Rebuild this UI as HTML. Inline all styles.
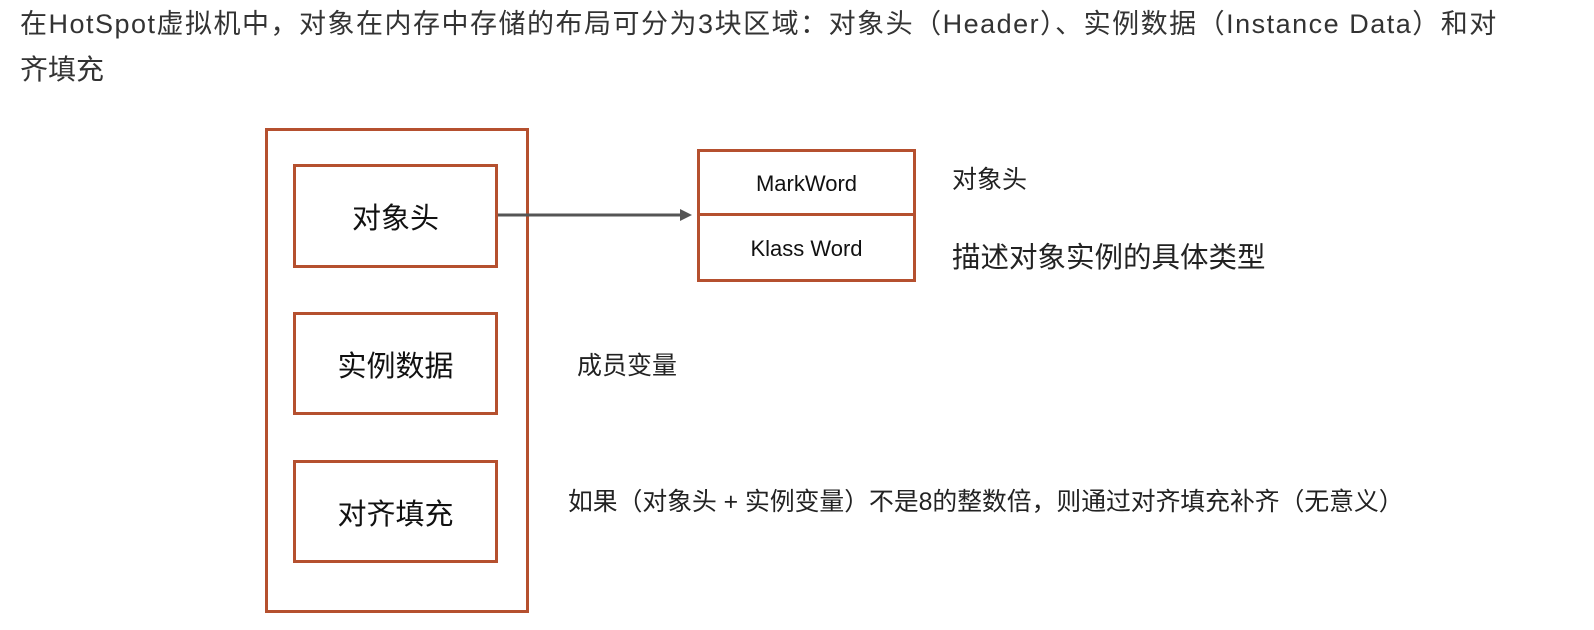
<!DOCTYPE html>
<html><head><meta charset="utf-8"><style>
body{margin:0;width:1594px;height:630px;background:#fff;position:relative;overflow:hidden;font-family:"Liberation Sans","Noto Sans CJK SC",sans-serif;color:#333}
.t{position:absolute;white-space:nowrap}
.b{position:absolute;border:3px solid #b5502f;box-sizing:border-box}
.c{display:flex;align-items:center;justify-content:center;font-size:29px;color:#111}
</style></head><body>
<div class="t" style="left:20px;top:2px;font-size:27px;letter-spacing:1.5px">在HotSpot虚拟机中，对象在内存中存储的布局可分为3块区域：对象头（Header）、实例数据（Instance Data）和对</div>
<div class="t" style="left:20px;top:48px;font-size:28px">齐填充</div>

<div class="b" style="left:265px;top:128px;width:264px;height:485px"></div>
<div class="b c" style="left:293px;top:164px;width:205px;height:104px">对象头</div>
<div class="b c" style="left:293px;top:312px;width:205px;height:103px">实例数据</div>
<div class="b c" style="left:293px;top:460px;width:205px;height:103px">对齐填充</div>

<div class="b" style="left:697px;top:149px;width:219px;height:133px"></div>
<div style="position:absolute;left:697px;top:213px;width:219px;height:3px;background:#b5502f"></div>
<div class="t" style="left:697px;width:219px;text-align:center;top:171px;font-size:22px;color:#111">MarkWord</div>
<div class="t" style="left:697px;width:219px;text-align:center;top:236px;font-size:22px;color:#111">Klass Word</div>

<svg style="position:absolute;left:0;top:0" width="1594" height="630">
<line x1="498" y1="215" x2="682" y2="215" stroke="#555" stroke-width="3"/>
<polygon points="680,209 692,215 680,221" fill="#555"/>
</svg>

<div class="t" style="left:952px;top:160px;font-size:25px;color:#222">对象头</div>
<div class="t" style="left:952px;top:235px;font-size:28.5px;color:#222">描述对象实例的具体类型</div>
<div class="t" style="left:577px;top:346px;font-size:25px;color:#222">成员变量</div>
<div class="t" style="left:568px;top:482px;font-size:24.8px;color:#222">如果（对象头 + 实例变量）不是8的整数倍，则通过对齐填充补齐（无意义）</div>
</body></html>
